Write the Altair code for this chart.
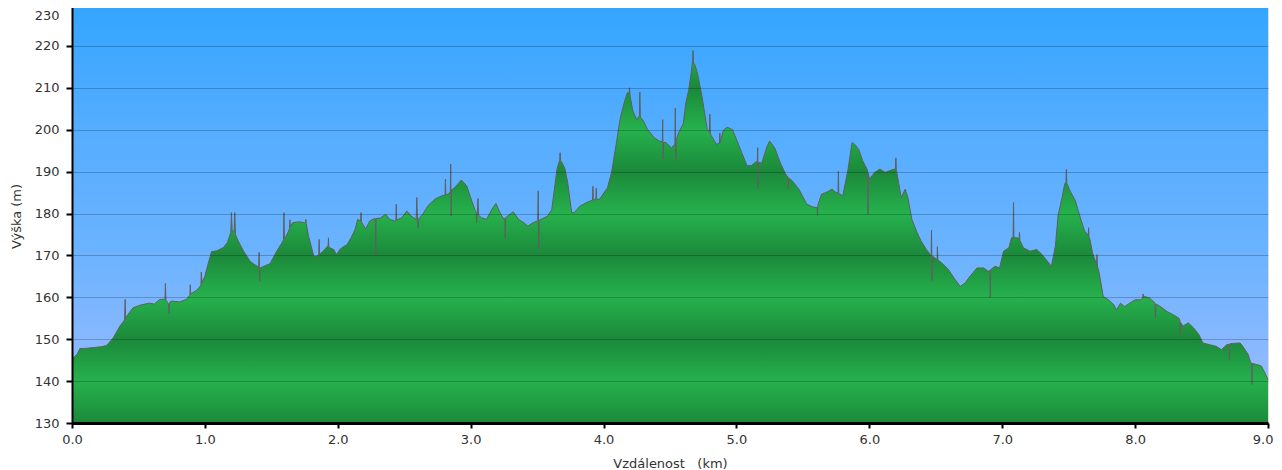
import altair as alt
import pandas as pd

dist_km = [
    0.00, 0.02, 0.04, 0.06, 0.10, 0.16, 0.22, 0.26, 0.31, 0.36, 0.396, 0.40, 0.404, 0.43, 0.46, 0.51, 0.58, 0.62,
    0.66, 0.70, 0.703, 0.707, 0.725, 0.73, 0.735, 0.75, 0.81, 0.86, 0.887, 0.89, 0.893, 0.94, 0.97, 0.973, 0.977,
    1.00, 1.02, 1.05, 1.09, 1.14, 1.17, 1.195, 1.20, 1.205, 1.22, 1.225, 1.23, 1.25, 1.29, 1.34, 1.37, 1.405,
    1.408, 1.412, 1.416, 1.45, 1.49, 1.54, 1.58, 1.592, 1.595, 1.598, 1.61, 1.63, 1.637, 1.64, 1.643, 1.66, 1.71,
    1.75, 1.757, 1.76, 1.763, 1.78, 1.80, 1.82, 1.84, 1.857, 1.86, 1.863, 1.89, 1.92, 1.927, 1.93, 1.933, 1.97,
    1.99, 2.02, 2.07, 2.10, 2.13, 2.15, 2.172, 2.175, 2.178, 2.21, 2.24, 2.27, 2.282, 2.285, 2.288, 2.32, 2.36,
    2.39, 2.43, 2.437, 2.44, 2.443, 2.48, 2.52, 2.55, 2.59, 2.595, 2.60, 2.605, 2.61, 2.64, 2.68, 2.73, 2.78,
    2.807, 2.81, 2.813, 2.83, 2.847, 2.85, 2.853, 2.856, 2.88, 2.93, 2.97, 3.00, 3.03, 3.042, 3.045, 3.05, 3.055,
    3.06, 3.08, 3.12, 3.16, 3.19, 3.22, 3.25, 3.257, 3.26, 3.263, 3.28, 3.32, 3.36, 3.40, 3.43, 3.47, 3.50, 3.505,
    3.508, 3.512, 3.516, 3.53, 3.58, 3.61, 3.63, 3.65, 3.67, 3.673, 3.677, 3.69, 3.71, 3.73, 3.76, 3.78, 3.82,
    3.87, 3.90, 3.917, 3.92, 3.923, 3.942, 3.945, 3.948, 3.97, 4.03, 4.06, 4.10, 4.12, 4.13, 4.16, 4.18, 4.192,
    4.195, 4.20, 4.22, 4.25, 4.27, 4.273, 4.277, 4.30, 4.33, 4.38, 4.42, 4.442, 4.445, 4.448, 4.452, 4.47, 4.51,
    4.537, 4.54, 4.543, 4.547, 4.56, 4.60, 4.62, 4.64, 4.66, 4.67, 4.673, 4.677, 4.69, 4.71, 4.74, 4.76, 4.78,
    4.797, 4.80, 4.803, 4.81, 4.85, 4.872, 4.875, 4.878, 4.90, 4.93, 4.97, 5.00, 5.04, 5.08, 5.11, 5.15, 5.157,
    5.16, 5.163, 5.167, 5.19, 5.23, 5.25, 5.29, 5.33, 5.37, 5.387, 5.39, 5.393, 5.42, 5.47, 5.53, 5.57, 5.60,
    5.607, 5.61, 5.613, 5.64, 5.68, 5.72, 5.75, 5.764, 5.767, 5.77, 5.80, 5.84, 5.87, 5.89, 5.92, 5.95, 5.987,
    5.99, 5.993, 6.00, 6.04, 6.08, 6.12, 6.15, 6.19, 6.197, 6.20, 6.203, 6.22, 6.24, 6.27, 6.29, 6.32, 6.36,
    6.39, 6.43, 6.465, 6.468, 6.472, 6.476, 6.51, 6.512, 6.516, 6.545, 6.596, 6.646, 6.684, 6.72, 6.757, 6.81,
    6.86, 6.895, 6.907, 6.91, 6.913, 6.946, 6.98, 7.01, 7.05, 7.07, 7.082, 7.085, 7.088, 7.11, 7.127, 7.13,
    7.133, 7.16, 7.21, 7.26, 7.30, 7.33, 7.37, 7.40, 7.42, 7.45, 7.47, 7.48, 7.483, 7.486, 7.51, 7.55, 7.58,
    7.62, 7.647, 7.65, 7.653, 7.66, 7.68, 7.71, 7.713, 7.716, 7.73, 7.76, 7.80, 7.84, 7.86, 7.89, 7.92, 7.96,
    8.00, 8.04, 8.057, 8.06, 8.063, 8.07, 8.11, 8.15, 8.153, 8.157, 8.19, 8.24, 8.29, 8.33, 8.337, 8.34, 8.343,
    8.36, 8.40, 8.44, 8.48, 8.51, 8.56, 8.61, 8.65, 8.69, 8.707, 8.71, 8.713, 8.74, 8.79, 8.81, 8.85, 8.87,
    8.877, 8.88, 8.883, 8.91, 8.95, 8.97, 9.00,
]
elev_m = [
    145.5, 145.8, 146.5, 147.8, 147.8, 148.0, 148.2, 148.5, 150.3, 153.1, 154.6, 159.5, 155.0, 156.3, 157.5, 158.1, 158.6, 158.4,
    159.5, 159.5, 163.3, 159.3, 158.5, 156.1, 158.8, 159.1, 158.9, 159.5, 160.5, 163.0, 160.8, 161.7, 162.9, 166.0, 163.5,
    165.0, 167.5, 170.9, 171.1, 171.9, 173.1, 175.5, 180.2, 176.0, 175.6, 180.2, 175.0, 173.5, 171.1, 168.6, 167.9, 167.2,
    170.7, 163.8, 167.0, 167.5, 168.0, 171.0, 173.0, 173.8, 180.2, 174.0, 174.5, 175.8, 176.5, 178.5, 176.8, 177.8, 178.0,
    177.8, 177.9, 178.6, 177.6, 174.6, 172.2, 169.8, 169.8, 170.1, 173.8, 170.3, 171.0, 172.1, 172.0, 174.2, 171.9, 171.4,
    170.2, 171.6, 172.6, 174.2, 176.2, 178.6, 178.2, 180.2, 178.0, 176.3, 178.2, 178.7, 178.8, 169.8, 178.8, 178.9, 179.8,
    178.6, 178.2, 178.4, 182.2, 178.5, 178.9, 180.6, 179.4, 178.6, 183.8, 178.0, 176.5, 178.8, 179.8, 181.9, 183.4, 184.2,
    184.4, 188.2, 184.5, 184.6, 185.2, 191.8, 179.4, 185.6, 186.2, 188.0, 186.6, 183.8, 181.0, 180.2, 177.8, 180.0, 183.6,
    179.6, 179.0, 178.6, 181.0, 182.4, 180.2, 178.6, 178.8, 174.2, 179.0, 179.4, 180.4, 178.6, 177.8, 177.0, 177.8, 178.2, 178.2,
    185.4, 171.4, 178.4, 178.6, 179.4, 180.9, 185.8, 190.6, 192.8, 194.5, 192.6, 192.0, 190.6, 187.4, 180.2, 180.2, 181.7,
    182.6, 183.0, 183.2, 186.5, 183.3, 183.3, 186.0, 183.4, 183.4, 186.2, 189.8, 197.5, 201.7, 203.3, 207.0, 208.9, 208.6,
    210.0, 208.1, 204.5, 202.4, 203.3, 209.0, 203.0, 202.1, 200.1, 198.1, 197.3, 197.1, 202.4, 193.0, 197.0, 196.9, 195.7,
    196.5, 205.2, 192.6, 197.5, 198.9, 201.5, 206.6, 209.3, 213.7, 216.5, 218.9, 216.0, 215.3, 213.0, 208.1, 204.1, 200.0,
    199.5, 203.7, 199.2, 198.6, 196.5, 196.8, 199.2, 196.9, 199.8, 200.6, 200.0, 197.7, 194.5, 191.4, 191.4, 192.4, 192.3,
    195.7, 186.0, 192.2, 192.0, 196.0, 197.3, 195.5, 192.1, 189.4, 188.7, 185.8, 188.5, 187.8, 185.8, 182.2, 181.6, 181.4,
    181.5, 179.5, 182.0, 184.6, 185.1, 185.8, 185.0, 184.9, 190.1, 184.8, 184.2, 190.6, 196.9, 196.5, 195.3, 192.6, 190.3,
    179.8, 189.6, 188.2, 189.8, 190.6, 189.8, 190.2, 190.6, 190.7, 193.3, 190.4, 187.4, 183.8, 185.8, 183.8, 178.6, 175.4,
    173.4, 171.4, 169.9, 176.0, 164.0, 169.8, 169.0, 172.1, 168.9, 168.2, 166.6, 164.2, 162.6, 163.4, 165.0, 167.0,
    167.0, 166.2, 166.4, 160.0, 166.6, 167.4, 167.0, 171.0, 171.8, 174.2, 174.2, 182.6, 174.2, 174.2, 174.0, 175.5,
    173.6, 171.8, 171.0, 171.4, 170.2, 169.0, 167.4, 172.2, 179.4, 183.8, 187.0, 187.5, 190.6, 187.2, 185.4, 183.1, 179.8,
    175.8, 174.8, 176.6, 174.5, 173.8, 170.6, 167.8, 170.2, 167.5, 165.8, 160.2, 159.4, 158.2, 157.0, 158.6, 157.8, 158.6,
    159.4, 159.4, 159.8, 160.8, 159.9, 160.2, 159.8, 158.6, 155.0, 158.4, 157.8, 156.6, 155.8, 155.0, 154.5, 150.6, 154.0,
    153.1, 153.9, 152.7, 151.1, 149.1, 148.7, 148.3, 147.5, 148.7, 148.8, 145.0, 148.9, 149.0, 149.1, 148.3, 146.4, 144.4,
    144.3, 139.2, 144.2, 144.0, 143.6, 142.4, 140.4,
]
x_ticks = [0, 1, 2, 3, 4, 5, 6, 7, 8, 9]
y_ticks = [130, 140, 150, 160, 170, 180, 190, 200, 210, 220, 230]

df = pd.DataFrame({"d": dist_km, "e": elev_m})

W, H = 1196, 419
FONT = "DejaVu Sans"

sky = alt.Gradient(
    gradient="linear", x1=0, x2=0, y1=0, y2=1,
    stops=[
        alt.GradientStop(offset=0.0, color="#33a5ff"),
        alt.GradientStop(offset=0.3, color="#55adff"),
        alt.GradientStop(offset=0.6, color="#6cb3ff"),
        alt.GradientStop(offset=0.85, color="#8db9ff"),
        alt.GradientStop(offset=1.0, color="#9fc2ff"),
    ],
)

LIGHT, DARK = "#26b14d", "#1b893a"
ymax = max(elev_m)
stops = [alt.GradientStop(offset=0.0, color=LIGHT)]
for v in range(210, 129, -10):
    off = (ymax - v) / (ymax - 130)
    col = DARK if ((v - 130) // 10) % 2 == 0 else LIGHT
    stops.append(alt.GradientStop(offset=round(off, 4), color=col))
green = alt.Gradient(gradient="linear", x1=0, x2=0, y1=0, y2=1, stops=stops)

x_enc = alt.X(
    "d:Q",
    scale=alt.Scale(domain=[0, 9], nice=False, zero=False),
    axis=alt.Axis(
        values=x_ticks, format=".1f", grid=False,
        title="Vzdálenost\u00a0\u00a0\u00a0(km)",
        domainColor="#000", domainWidth=3, tickColor="#000", tickWidth=2, tickSize=5,
        labelPadding=5, labelFontSize=13, labelColor="#333", labelFont=FONT,
        labelFlush=False, labelOverlap=False, labelBound=False,
        labelAlign={"condition": {"test": "datum.value == 9", "value": "right"}, "value": "center"},
        labelOffset={"condition": {"test": "datum.value == 9", "value": 5}, "value": 0},
        titleFont=FONT, titleFontSize=13, titleFontWeight="normal", titleColor="#333",
        titleY=40, titleBaseline="middle", zindex=1,
    ),
)
y_enc = alt.Y(
    "e:Q",
    scale=alt.Scale(domain=[130, 230], nice=False, zero=False),
    axis=alt.Axis(
        values=y_ticks, grid=True, gridColor="#000", gridOpacity=0.22, gridWidth=1,
        title="Výška (m)",
        domainColor="#000", domainWidth=2, tickColor="#000", tickWidth=2, tickSize=6,
        labelPadding=7, labelFontSize=13, labelColor="#333", labelFont=FONT,
        labelFlush=False, labelOverlap=False, labelBound=False,
        labelOffset={"condition": {"test": "datum.value == 230", "value": 11}, "value": 0},
        titleFont=FONT, titleFontSize=13, titleFontWeight="normal", titleColor="#333",
        titleX=-56, titleY=212, titleAngle=270, titleBaseline="middle", zindex=1,
    ),
)

bg = alt.Chart(pd.DataFrame({"k": [0]})).mark_rect(fill=sky).encode(
    x=alt.value(0), x2=alt.value(W), y=alt.value(0), y2=alt.value(H)
)
area = alt.Chart(df).mark_area(fill=green).encode(x=x_enc, y=y_enc, y2=alt.datum(130))
line = alt.Chart(df).mark_line(color="#5f5f5f", strokeWidth=1.0).encode(x=x_enc, y=y_enc)

chart = (
    alt.layer(bg, area, line)
    .properties(
        width=W, height=H,
        autosize=alt.AutoSizeParams(type="none"),
        padding={"left": 64, "top": -4, "right": 6, "bottom": 50},
    )
    .configure_view(stroke=None)
    .configure(background="white", font=FONT)
)

chart.save("out.html", embed_options={"renderer": "svg", "actions": False})
